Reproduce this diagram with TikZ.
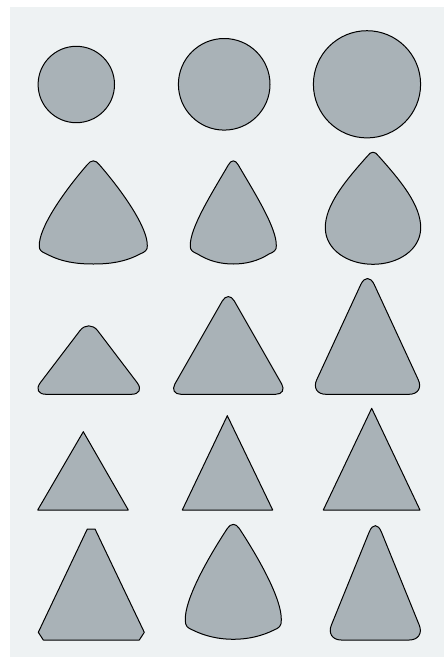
\documentclass[tikz,border=0pt]{standalone}
\usepackage{tikz}

\definecolor{panelbg}{RGB}{238,242,243}
\definecolor{pickfill}{RGB}{169,178,183}

\tikzset{every picture/.style={line width=0.75pt}}
\tikzset{pick/.style={draw=black,fill=pickfill,line join=round}}

\begin{document}
\begin{tikzpicture}[x=0.75pt,y=0.75pt,yscale=-1,xscale=1]
\useasboundingbox (0,0) rectangle (444,657);

%Shape: Rectangle (panel)
\fill[panelbg] (10,7) rectangle (444,657);

%Shape: Circle
\draw[pick] (76.3,84.5) circle (38.2);
%Shape: Circle
\draw[pick] (224.2,84.3) circle (45.8);
%Shape: Circle
\draw[pick] (367,84.3) circle (53.6);

%Shape: Curved triangle
\draw[pick] (87,165) .. controls (91,159.5) and (95.6,159.5) .. (99.6,165) .. controls (123,192) and (148,228) .. (147.3,246) .. controls (147.6,250) and (145,252) .. (140,254) .. controls (125,262) and (110,264) .. (93.3,264) .. controls (76.6,264) and (61.6,262) .. (46.6,254) .. controls (41.6,252) and (39,250) .. (39.3,246) .. controls (38.6,228) and (63.6,192) .. (87,165) -- cycle ;
%Shape: Curved triangle
\draw[pick] (228.3,165) .. controls (231.3,159.5) and (235.3,159.5) .. (238.3,165) .. controls (254,192) and (277,228) .. (276.3,246) .. controls (276.6,250) and (274,252) .. (269,254) .. controls (258,261) and (246,264) .. (233.3,264) .. controls (220.6,264) and (208.6,261) .. (197.6,254) .. controls (192.6,252) and (190,250) .. (190.3,246) .. controls (189.6,228) and (212.6,192) .. (228.3,165) -- cycle ;
%Shape: Drop
\draw[pick] (367.5,156) .. controls (371,151) and (375,151) .. (378.5,156) .. controls (400,180) and (421,205) .. (420.7,228) .. controls (420.5,250) and (398,264.3) .. (373,264.3) .. controls (348,264.3) and (325.5,250) .. (325.3,228) .. controls (325,205) and (346,180) .. (367.5,156) -- cycle ;

%Shape: Rounded triangle
\draw[pick, rounded corners=11pt] (31.5,394.3) -- (146,394.3) -- (88.8,319) -- cycle ;
%Shape: Rounded triangle
\draw[pick, rounded corners=9pt] (169,394.3) -- (287.6,394.3) -- (228.3,290.5) -- cycle ;
%Shape: Rounded triangle
\draw[pick, rounded corners=12pt] (310,394.3) -- (425,394.3) -- (367.5,270) -- cycle ;

%Shape: Triangle
\draw[pick] (37.7,510) -- (128.3,510) -- (83.3,431.7) -- cycle ;
%Shape: Triangle
\draw[pick] (182.3,510) -- (272.7,510) -- (227.3,415.7) -- cycle ;
%Shape: Triangle
\draw[pick] (323.3,510) -- (420,510) -- (371.7,408.3) -- cycle ;

%Shape: Cut triangle
\draw[pick] (87.3,529) -- (95,529) -- (144.3,632.3) -- (139.3,640) -- (43.3,640) -- (38.3,632.3) -- cycle ;
%Shape: Curved triangle
\draw[pick] (227.3,528.5) .. controls (230.8,523) and (235.8,523) .. (239.3,528.5) .. controls (260,560) and (282,600) .. (281.3,620) .. controls (281.6,626) and (279,628) .. (274,630) .. controls (262,636) and (248,639.3) .. (233.3,639.3) .. controls (218.6,639.3) and (204.6,636) .. (192.6,630) .. controls (187.6,628) and (185,626) .. (185.3,620) .. controls (184.6,600) and (206.6,560) .. (227.3,528.5) -- cycle ;
%Shape: Rounded triangle
\draw[pick, rounded corners=12pt] (325.3,640) -- (425.3,640) -- (375.3,517) -- cycle ;

\end{tikzpicture}
\end{document}
